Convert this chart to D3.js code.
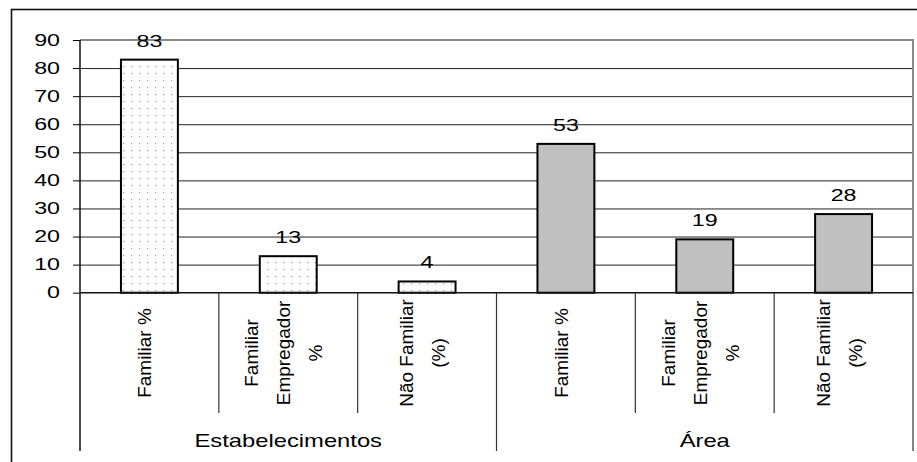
<!DOCTYPE html>
<html>
<head>
<meta charset="utf-8">
<script src="https://cdn.jsdelivr.net/npm/d3@7"></script>
<style>
  html, body { margin: 0; padding: 0; background: #fff; }
  svg { display: block; font-family: "Liberation Sans", Arial, sans-serif; }
</style>
</head>
<body>
<svg id="chart" width="917" height="462"></svg>
<script>
// ---- data ----
const groups = ["Estabelecimentos", "Área"];
const categories = ["Familiar %", "Familiar\nEmpregador\n%", "Não Familiar\n(%)"];
const estabelecimentosValues = [83, 13, 4];
const areaValues = [53, 19, 28];
const yTicks = [0, 10, 20, 30, 40, 50, 60, 70, 80, 90];

// table built from the arrays
const seriesValues = [estabelecimentosValues, areaValues];
const rows = [];
groups.forEach((g, gi) => {
  categories.forEach((c, ci) => {
    rows.push({ key: gi + "-" + ci, group: g, groupIndex: gi, label: c, value: seriesValues[gi][ci] });
  });
});

(function () {
// ---- layout ----
const svg = d3.select("#chart");
const pLeft = 80, pRight = 913, pTop = 40, pBottom = 292.7;
const minorBottom = 413, groupBottom = 451;

const x = d3.scaleBand().domain(rows.map(d => d.key)).range([pLeft, pRight]).paddingInner(0).paddingOuter(0);
const y = d3.scaleLinear().domain([0, 90]).range([pBottom, pTop]);
const xg = d3.scaleBand().domain(groups).range([pLeft, pRight]);
const barW = x.bandwidth() * 0.41;

function stretch(sel, f) {
  sel.each(function () {
    const len = this.getComputedTextLength();
    if (len > 0) {
      d3.select(this).attr("textLength", len * f).attr("lengthAdjust", "spacingAndGlyphs");
    }
  });
}

// patterns
const defs = svg.append("defs");
const pat = defs.append("pattern").attr("id", "dots").attr("patternUnits", "userSpaceOnUse")
  .attr("width", 8).attr("height", 7);
pat.append("rect").attr("width", 8).attr("height", 7).attr("fill", "#fff");
pat.append("rect").attr("x", 3).attr("y", 3).attr("width", 1.2).attr("height", 1.2).attr("fill", "#999");

// outer frame (extends beyond the picture)
svg.append("rect").attr("x", 11.5).attr("y", 9.5).attr("width", 1000).attr("height", 1000)
  .attr("fill", "none").attr("stroke", "#111").attr("stroke-width", 1.6);

// gridlines
const grid = svg.append("g").attr("transform", `translate(${pLeft},0)`)
  .call(d3.axisLeft(y).tickValues(yTicks.filter(t => t > 0 && t < 90)).tickSize(-(pRight - pLeft)).tickFormat(""));
grid.select(".domain").remove();
grid.selectAll("line").attr("stroke", "#222").attr("stroke-width", 1);

// plot area border (top & right), grey
svg.append("path")
  .attr("d", `M${pLeft},${y(90)}H${pRight}V${pBottom}`)
  .attr("fill", "none").attr("stroke", "#8a8a8a").attr("stroke-width", 2);

// bars
svg.append("g").selectAll("rect").data(rows).join("rect")
  .attr("x", d => x(d.key) + (x.bandwidth() - barW) / 2)
  .attr("y", d => y(d.value))
  .attr("width", barW)
  .attr("height", d => y(0) - y(d.value))
  .attr("fill", d => d.groupIndex === 0 ? "url(#dots)" : "#c0c0c0")
  .attr("stroke", "#000").attr("stroke-width", 2);

// value labels
svg.append("g").selectAll("text").data(rows).join("text")
  .attr("x", d => x(d.key) + x.bandwidth() / 2)
  .attr("y", d => y(d.value) - 13)
  .attr("text-anchor", "middle")
  .attr("font-size", 16).attr("fill", "#000")
  .text(d => d.value)
  .call(stretch, 1.45);

// y axis
const yAxis = svg.append("g").attr("transform", `translate(${pLeft},0)`)
  .call(d3.axisLeft(y).tickValues(yTicks).tickSize(7).tickPadding(13));
yAxis.select(".domain").remove();
yAxis.selectAll("line").attr("stroke", "#000");
yAxis.selectAll("text").attr("font-size", 16).attr("fill", "#000")
  .attr("font-family", "Liberation Sans, Arial, sans-serif")
  .call(stretch, 1.45);
svg.append("line").attr("x1", pLeft).attr("x2", pLeft).attr("y1", pTop).attr("y2", groupBottom)
  .attr("stroke", "#111").attr("stroke-width", 1.5);

// x axis line
svg.append("line").attr("x1", pLeft).attr("x2", pRight).attr("y1", pBottom).attr("y2", pBottom)
  .attr("stroke", "#111").attr("stroke-width", 1.5);

// category separators
const seps = rows.map((d, i) => ({ xPos: x(d.key) + x.bandwidth(), isGroupEnd: (i % categories.length) === categories.length - 1 }));
svg.append("g").selectAll("line").data(seps).join("line")
  .attr("x1", d => d.xPos).attr("x2", d => d.xPos)
  .attr("y1", pBottom).attr("y2", d => d.isGroupEnd ? groupBottom : minorBottom)
  .attr("stroke", "#333").attr("stroke-width", 1.2);

// rotated category labels
const lineGap = 32;
const labelMid = 353;
const catG = svg.append("g").selectAll("g").data(rows).join("g")
  .attr("transform", d => `translate(${x(d.key) + x.bandwidth() / 2},${labelMid}) rotate(-90)`);
catG.each(function (d) {
  const lines = d.label.split("\n");
  const n = lines.length;
  d3.select(this).selectAll("text").data(lines).join("text")
    .attr("x", 0)
    .attr("y", (l, i) => 2 + (i - (n - 1) / 2) * lineGap)
    .attr("text-anchor", "middle")
    .attr("font-size", 19).attr("fill", "#000")
    .text(l => l);
});

// group labels
svg.append("g").selectAll("text").data(groups).join("text")
  .attr("x", d => xg(d) + xg.bandwidth() / 2)
  .attr("y", 447)
  .attr("text-anchor", "middle")
  .attr("font-size", 19).attr("fill", "#000")
  .text(d => d)
  .call(stretch, 1.25);
})();
</script>
</body>
</html>
